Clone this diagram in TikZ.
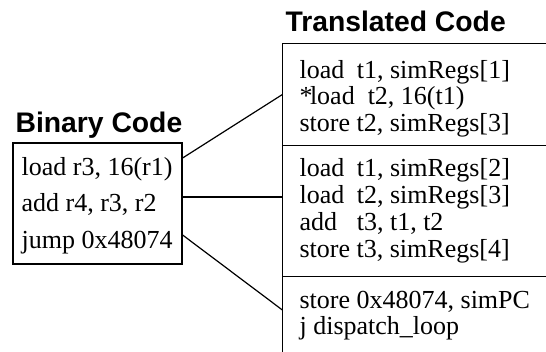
\documentclass[tikz,border=0pt]{standalone}
\usepackage{fontspec}
\setmainfont{Liberation Serif}
\newfontfamily\titlefont{Liberation Sans}
\newcommand\opx[1]{\makebox[2.2em][l]{#1}}
\begin{document}
\begin{tikzpicture}[x=1pt,y=-1pt,line width=1.2pt,
  lcode/.style={font=\fontsize{26}{36.5}\selectfont, align=left, inner sep=0pt, anchor=base west},
  rcode/.style={font=\fontsize{26}{26.5}\selectfont, align=left, inner sep=0pt, anchor=base west},
  ttl/.style={font=\titlefont\bfseries\fontsize{28.3}{30}\selectfont, inner sep=0pt, anchor=base west},
  sect/.style={minimum width=263pt, inner sep=0pt}]
\useasboundingbox (0,0) rectangle (546,351);
% titles
\node[ttl] (tbin) at (15,132) {Binary Code};
\node[ttl] (ttr) at (285,31) {Translated Code};
% binary code box
\node[draw, minimum width=169pt, minimum height=121pt, inner sep=0pt] (bin) at (97.5,203.5) {};
% (base anchor of a multi-line node = last line's baseline)
\node[lcode] (bcode) at (21,248) {load r3, 16(r1)\\add r4, r3, r2\\jump 0x48074};
% translated code sections
\node[sect, minimum height=101pt] (s1) at (414.5,94.5) {};
\node[sect, minimum height=131pt] (s2) at (414.5,210.5) {};
\node[sect, minimum height=75pt] (s3) at (414.5,313.5) {};
\draw (s1.north east) -- (s1.north west) -- (s3.south west);
\draw (s1.south west) -- (s1.south east);
\draw (s2.south west) -- (s2.south east);
\node[rcode] (c1) at (299,131) {\opx{load}t1, simRegs[1]\\\makebox[0.4em][l]{*}load\ \ t2, 16(t1)\\store t2, simRegs[3]};
\node[rcode, font=\fontsize{26}{27}\selectfont] (c2) at (299,257) {\opx{load}t1, simRegs[2]\\\opx{load}t2, simRegs[3]\\\opx{add}t3, t1, t2\\store t3, simRegs[4]};
\node[rcode] (c3) at (299,334.5) {store 0x48074, simPC\\j dispatch\_loop};
% connectors
\draw ([yshift=45.5pt]bin.east) -- (s1.west);
\draw ([yshift=6.5pt]bin.east) -- ([yshift=6.5pt]bin.east -| s2.west);
\draw ([yshift=-31.5pt]bin.east) -- ([yshift=3.5pt]s3.west);
\end{tikzpicture}
\end{document}
